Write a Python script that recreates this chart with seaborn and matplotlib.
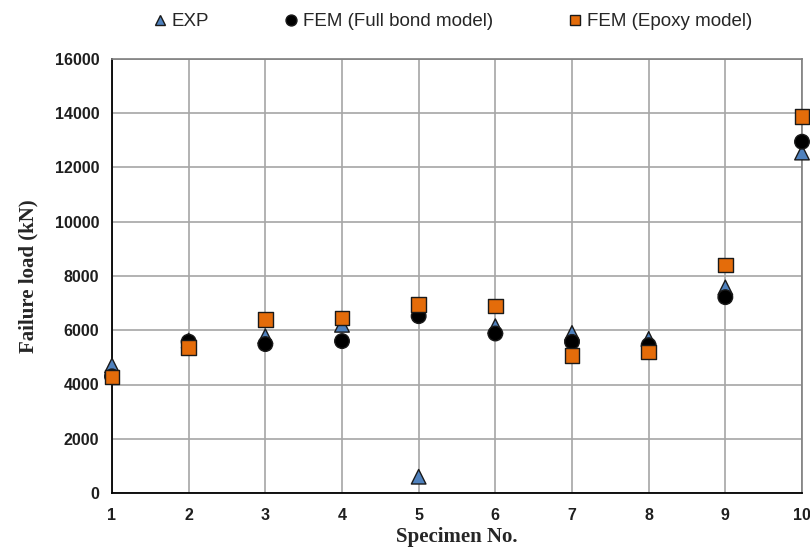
import matplotlib
matplotlib.use("Agg")
import matplotlib.pyplot as plt
import seaborn as sns
import pandas as pd

specimens = [1, 2, 3, 4, 5, 6, 7, 8, 9, 10]
exp_load = [4700, 5620, 5780, 6200, 600, 6150, 5900, 5680, 7580, 12550]
fem_full = [4300, 5580, 5490, 5600, 6520, 5880, 5570, 5450, 7220, 12950]
fem_epoxy = [4280, 5360, 6400, 6450, 6950, 6890, 5060, 5200, 8400, 13880]
series_names = ["EXP", "FEM (Full bond model)", "FEM (Epoxy model)"]

rows = []
for name, vals in zip(series_names, [exp_load, fem_full, fem_epoxy]):
    for s, v in zip(specimens, vals):
        rows.append({"Specimen": s, "Load": v, "Series": name})
df = pd.DataFrame(rows)

sns.set_style("white")
fig = plt.figure(figsize=(8.1, 5.52), dpi=100)
ax = fig.add_axes([112/810, 1-493/552, 690/810, 434/552])

palette = {"EXP": "#4F81BD", "FEM (Full bond model)": "black", "FEM (Epoxy model)": "#E46C0A"}
markers = {"EXP": "^", "FEM (Full bond model)": "o", "FEM (Epoxy model)": "s"}
sns.scatterplot(data=df, x="Specimen", y="Load", hue="Series", style="Series",
                palette=palette, markers=markers, s=110, edgecolor="#1a1a1a",
                linewidth=1.0, ax=ax, zorder=3, clip_on=False)

ax.set_xlim(1, 10)
ax.set_ylim(0, 16000)
ax.set_xticks(specimens)
ax.set_yticks(range(0, 16001, 2000))
ax.grid(True, color="#a6a6a6", linewidth=1.2)
ax.set_axisbelow(True)
for side in ["left", "bottom"]:
    ax.spines[side].set_color("black")
    ax.spines[side].set_linewidth(1.3)
for side in ["top", "right"]:
    ax.spines[side].set_color("#7f7f7f")
    ax.spines[side].set_linewidth(1.2)
ax.tick_params(axis="both", direction="out", length=5, width=1, color="black",
               labelsize=11.5)
ax.tick_params(axis="x", pad=6)
ax.tick_params(axis="y", pad=4)
for lab in ax.get_xticklabels() + ax.get_yticklabels():
    lab.set_fontfamily("Liberation Sans")
    lab.set_fontweight("bold")
    lab.set_color("#1f1f1f")

ax.set_xlabel("Specimen No.", fontfamily="Liberation Serif", fontweight="bold",
              fontsize=15, labelpad=3)
ax.set_ylabel("Failure load (kN)", fontfamily="Liberation Serif", fontweight="bold",
              fontsize=15, labelpad=12)

handles, labels = ax.get_legend_handles_labels()
ax.legend(handles, labels, loc="upper center", bbox_to_anchor=(0.485, 1.145), ncol=3,
          frameon=False, prop={"family": "Liberation Sans", "size": 13.5},
          handletextpad=-0.4, columnspacing=3.4, markerscale=0.75)

fig.savefig("out.png", dpi=100)
